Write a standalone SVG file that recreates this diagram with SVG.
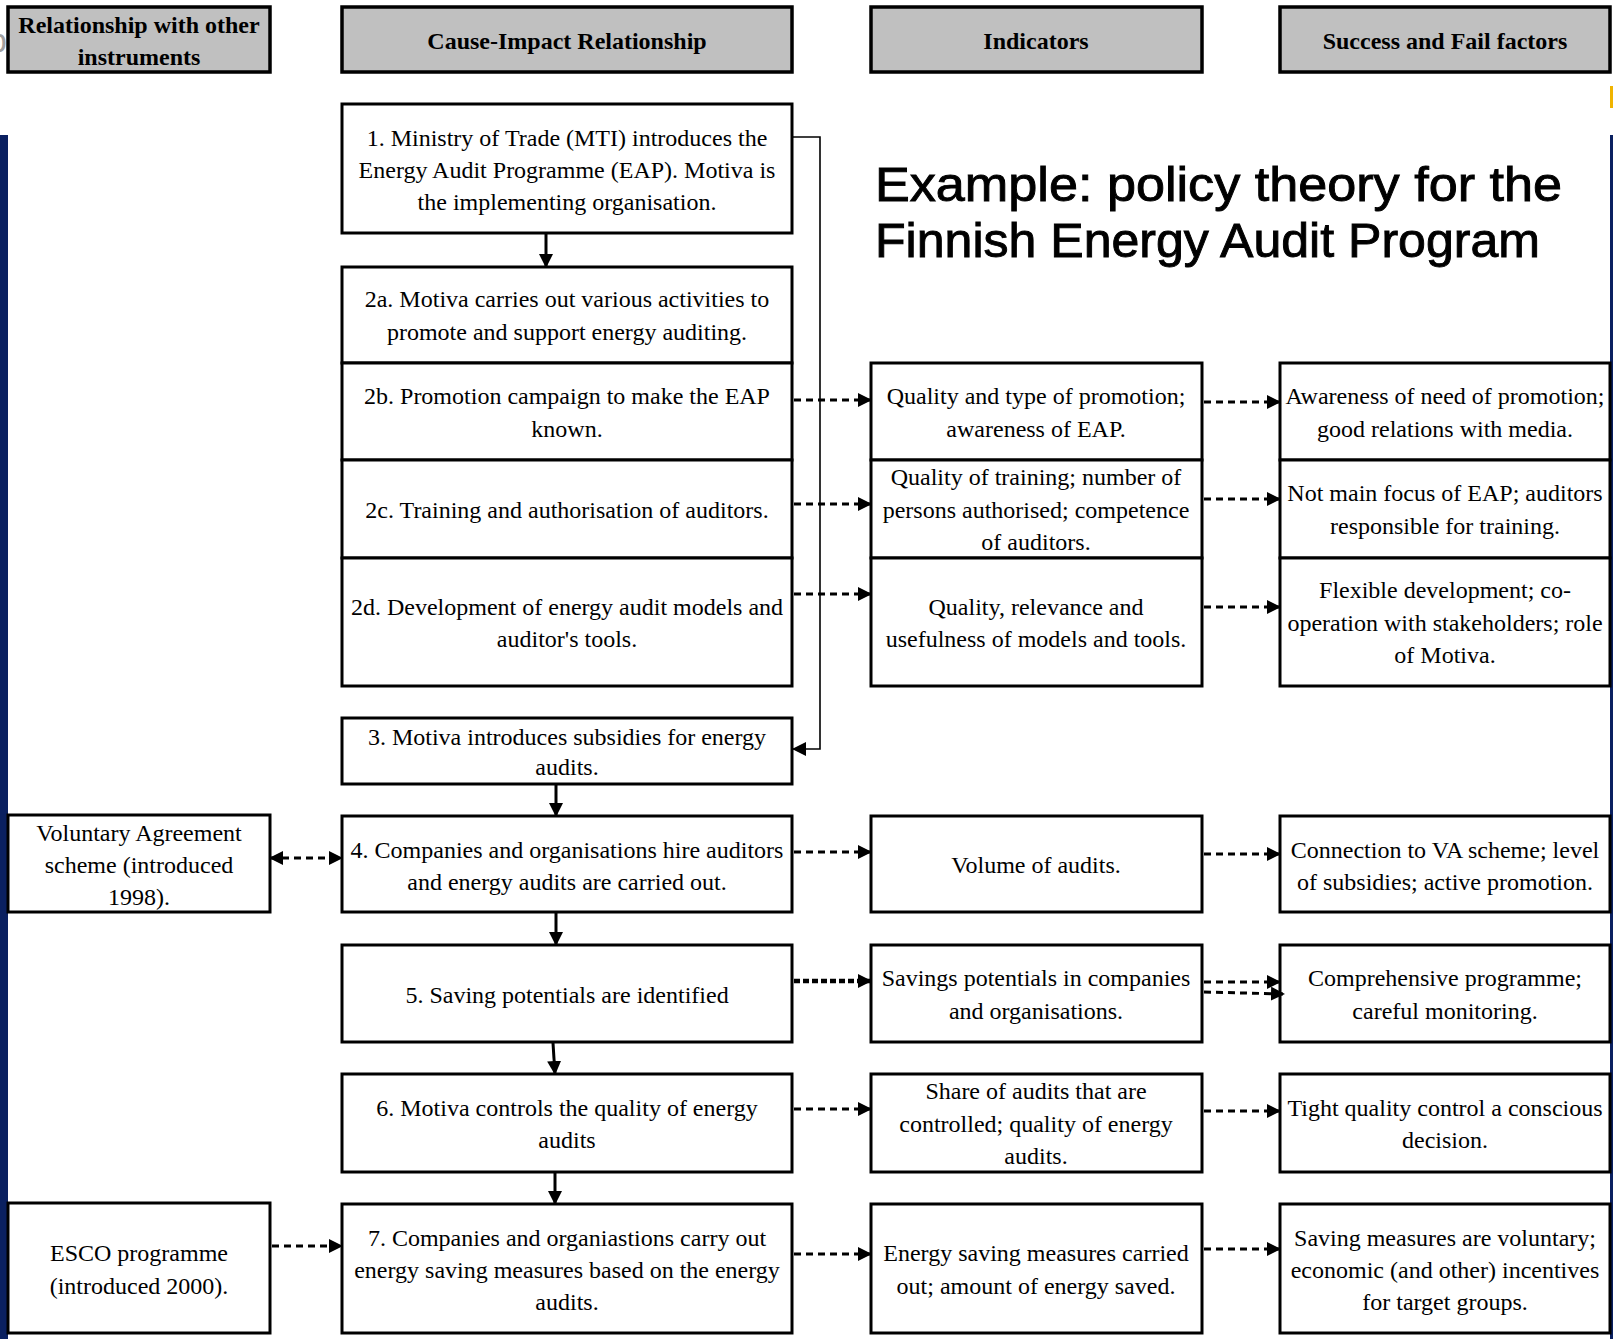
<svg xmlns="http://www.w3.org/2000/svg" width="1613" height="1339" viewBox="0 0 1613 1339">
<style>
.hd{fill:#c0c0c0;stroke:#000;stroke-width:3.5}
.bx{fill:#fff;stroke:#000;stroke-width:3}
.ht{font-family:"Liberation Serif","Times New Roman",serif;font-weight:bold;font-size:24px;text-anchor:middle;fill:#000}
.t{font-family:"Liberation Serif","Times New Roman",serif;font-size:24px;text-anchor:middle;fill:#000}
.sol{stroke:#000;stroke-width:3;fill:none}
.thin{stroke:#000;stroke-width:1.6;fill:none}
.dsh{stroke:#000;stroke-width:3;stroke-dasharray:7 5;fill:none}
.dot{stroke:#000;stroke-width:4.5;stroke-dasharray:6 3;fill:none}
.title{font-family:"Liberation Sans",Arial,sans-serif;font-size:48px;fill:#000;stroke:#000;stroke-width:0.9}
</style>
<defs>
<marker id="ah" markerUnits="userSpaceOnUse" markerWidth="14" markerHeight="14" refX="13" refY="7" orient="auto-start-reverse" viewBox="0 0 14 14">
<path d="M0,0 L14,7 L0,14 z" fill="#000"/>
</marker>
</defs>
<rect x="0" y="0" width="1613" height="1339" fill="#fff"/>
<!-- decorative edges -->
<rect x="0" y="135" width="8" height="1204" fill="#0a2060"/>
<rect x="1610" y="135" width="3" height="1204" fill="#0a2060"/>
<rect x="1610" y="86" width="3" height="22" fill="#f0b400"/>
<text x="-12" y="52" font-family="Liberation Sans,Arial,sans-serif" font-size="34" fill="#a0a0a0">p</text>

<g id="title">
<text class="title" x="875" y="201" textLength="687" lengthAdjust="spacingAndGlyphs">Example: policy theory for the</text>
<text class="title" x="875" y="257" textLength="665" lengthAdjust="spacingAndGlyphs">Finnish Energy Audit Program</text>
</g>

<g id="h-rel"><rect class="hd" x="8" y="7" width="262" height="65"/>
<text class="ht" x="139" y="33">Relationship with other</text><text class="ht" x="139" y="65">instruments</text></g>
<g id="h-cause"><rect class="hd" x="342" y="7" width="450" height="65"/>
<text class="ht" x="567" y="49">Cause-Impact Relationship</text></g>
<g id="h-ind"><rect class="hd" x="871" y="7" width="331" height="65"/>
<text class="ht" x="1036" y="49">Indicators</text></g>
<g id="h-succ"><rect class="hd" x="1280" y="7" width="330" height="65"/>
<text class="ht" x="1445" y="49">Success and Fail factors</text></g>

<!-- main column -->
<g id="n1"><rect class="bx" x="342" y="104" width="450" height="129"/>
<text class="t" x="567" y="146">1. Ministry of Trade (MTI) introduces the</text>
<text class="t" x="567" y="178">Energy Audit Programme (EAP). Motiva is</text>
<text class="t" x="567" y="210">the implementing organisation.</text></g>
<g id="n2a"><rect class="bx" x="342" y="267" width="450" height="96"/>
<text class="t" x="567" y="307">2a. Motiva carries out various activities to</text>
<text class="t" x="567" y="340">promote and support energy auditing.</text></g>
<g id="n2b"><rect class="bx" x="342" y="363" width="450" height="97"/>
<text class="t" x="567" y="404">2b. Promotion campaign to make the EAP</text>
<text class="t" x="567" y="437">known.</text></g>
<g id="n2c"><rect class="bx" x="342" y="460" width="450" height="98"/>
<text class="t" x="567" y="518">2c. Training and authorisation of auditors.</text></g>
<g id="n2d"><rect class="bx" x="342" y="558" width="450" height="128"/>
<text class="t" x="567" y="615">2d. Development of energy audit models and</text>
<text class="t" x="567" y="647">auditor's tools.</text></g>
<g id="n3"><rect class="bx" x="342" y="718" width="450" height="66"/>
<text class="t" x="567" y="745">3. Motiva introduces subsidies for energy</text>
<text class="t" x="567" y="775">audits.</text></g>
<g id="n4"><rect class="bx" x="342" y="816" width="450" height="96"/>
<text class="t" x="567" y="858">4. Companies and organisations hire auditors</text>
<text class="t" x="567" y="890">and energy audits are carried out.</text></g>
<g id="n5"><rect class="bx" x="342" y="945" width="450" height="97"/>
<text class="t" x="567" y="1003">5. Saving potentials are identified</text></g>
<g id="n6"><rect class="bx" x="342" y="1074" width="450" height="98"/>
<text class="t" x="567" y="1116">6. Motiva controls the quality of energy</text>
<text class="t" x="567" y="1148">audits</text></g>
<g id="n7"><rect class="bx" x="342" y="1204" width="450" height="129"/>
<text class="t" x="567" y="1246">7. Companies and organiastions carry out</text>
<text class="t" x="567" y="1278">energy saving measures based on the energy</text>
<text class="t" x="567" y="1310">audits.</text></g>

<!-- indicators -->
<g id="i2b"><rect class="bx" x="871" y="363" width="331" height="97"/>
<text class="t" x="1036" y="404">Quality and type of promotion;</text>
<text class="t" x="1036" y="437">awareness of EAP.</text></g>
<g id="i2c"><rect class="bx" x="871" y="460" width="331" height="98"/>
<text class="t" x="1036" y="485">Quality of training; number of</text>
<text class="t" x="1036" y="518">persons authorised; competence</text>
<text class="t" x="1036" y="550">of auditors.</text></g>
<g id="i2d"><rect class="bx" x="871" y="558" width="331" height="128"/>
<text class="t" x="1036" y="615">Quality, relevance and</text>
<text class="t" x="1036" y="647">usefulness of models and tools.</text></g>
<g id="i4"><rect class="bx" x="871" y="816" width="331" height="96"/>
<text class="t" x="1036" y="873">Volume of audits.</text></g>
<g id="i5"><rect class="bx" x="871" y="945" width="331" height="97"/>
<text class="t" x="1036" y="986">Savings potentials in companies</text>
<text class="t" x="1036" y="1019">and organisations.</text></g>
<g id="i6"><rect class="bx" x="871" y="1074" width="331" height="98"/>
<text class="t" x="1036" y="1099">Share of audits that are</text>
<text class="t" x="1036" y="1132">controlled; quality of energy</text>
<text class="t" x="1036" y="1164">audits.</text></g>
<g id="i7"><rect class="bx" x="871" y="1204" width="331" height="129"/>
<text class="t" x="1036" y="1261">Energy saving measures carried</text>
<text class="t" x="1036" y="1294">out; amount of energy saved.</text></g>

<!-- success factors -->
<g id="s2b"><rect class="bx" x="1280" y="363" width="330" height="97"/>
<text class="t" x="1445" y="404">Awareness of need of promotion;</text>
<text class="t" x="1445" y="437">good relations with media.</text></g>
<g id="s2c"><rect class="bx" x="1280" y="460" width="330" height="98"/>
<text class="t" x="1445" y="501">Not main focus of EAP; auditors</text>
<text class="t" x="1445" y="534">responsible for training.</text></g>
<g id="s2d"><rect class="bx" x="1280" y="558" width="330" height="128"/>
<text class="t" x="1445" y="598">Flexible development; co-</text>
<text class="t" x="1445" y="631">operation with stakeholders; role</text>
<text class="t" x="1445" y="663">of Motiva.</text></g>
<g id="s4"><rect class="bx" x="1280" y="816" width="330" height="96"/>
<text class="t" x="1445" y="858">Connection to VA scheme; level</text>
<text class="t" x="1445" y="890">of subsidies; active promotion.</text></g>
<g id="s5"><rect class="bx" x="1280" y="945" width="330" height="97"/>
<text class="t" x="1445" y="986">Comprehensive programme;</text>
<text class="t" x="1445" y="1019">careful monitoring.</text></g>
<g id="s6"><rect class="bx" x="1280" y="1074" width="330" height="98"/>
<text class="t" x="1445" y="1116">Tight quality control a conscious</text>
<text class="t" x="1445" y="1148">decision.</text></g>
<g id="s7"><rect class="bx" x="1280" y="1204" width="330" height="129"/>
<text class="t" x="1445" y="1246">Saving measures are voluntary;</text>
<text class="t" x="1445" y="1278">economic (and other) incentives</text>
<text class="t" x="1445" y="1310">for target groups.</text></g>

<!-- other instruments -->
<g id="va"><rect class="bx" x="8" y="815" width="262" height="97"/>
<text class="t" x="139" y="841">Voluntary Agreement</text>
<text class="t" x="139" y="873">scheme (introduced</text>
<text class="t" x="139" y="905">1998).</text></g>
<g id="esco"><rect class="bx" x="8" y="1203" width="262" height="130"/>
<text class="t" x="139" y="1261">ESCO programme</text>
<text class="t" x="139" y="1294">(introduced 2000).</text></g>

<g id="connectors">
<line class="sol" x1="546" y1="233" x2="546" y2="267" marker-end="url(#ah)"/>
<polyline class="thin" points="792,137 820,137 820,749 793,749" marker-end="url(#ah)"/>
<line class="sol" x1="556" y1="784" x2="556" y2="816" marker-end="url(#ah)"/>
<line class="sol" x1="556" y1="912" x2="556" y2="945" marker-end="url(#ah)"/>
<line class="sol" x1="553" y1="1043" x2="555" y2="1074" marker-end="url(#ah)"/>
<line class="sol" x1="555" y1="1172" x2="555" y2="1204" marker-end="url(#ah)"/>

<line class="dsh" x1="794" y1="400" x2="871" y2="400" marker-end="url(#ah)"/>
<line class="dsh" x1="1204" y1="402" x2="1280" y2="402" marker-end="url(#ah)"/>
<line class="dsh" x1="794" y1="504" x2="871" y2="504" marker-end="url(#ah)"/>
<line class="dsh" x1="1204" y1="499" x2="1280" y2="499" marker-end="url(#ah)"/>
<line class="dsh" x1="794" y1="594" x2="871" y2="594" marker-end="url(#ah)"/>
<line class="dsh" x1="1204" y1="607" x2="1280" y2="607" marker-end="url(#ah)"/>
<line class="dsh" x1="794" y1="852" x2="871" y2="852" marker-end="url(#ah)"/>
<line class="dsh" x1="1204" y1="854" x2="1280" y2="854" marker-end="url(#ah)"/>
<line class="dsh" x1="270" y1="858" x2="342" y2="858" marker-start="url(#ah)" marker-end="url(#ah)"/>
<line class="dot" x1="794" y1="981" x2="871" y2="981" marker-end="url(#ah)"/>
<line class="dsh" x1="1204" y1="982" x2="1280" y2="982" marker-end="url(#ah)"/>
<line class="dsh" x1="1204" y1="992" x2="1284" y2="994" marker-end="url(#ah)"/>
<line class="dsh" x1="794" y1="1109" x2="871" y2="1109" marker-end="url(#ah)"/>
<line class="dsh" x1="1204" y1="1111" x2="1280" y2="1111" marker-end="url(#ah)"/>
<line class="dsh" x1="272" y1="1246" x2="342" y2="1246" marker-end="url(#ah)"/>
<line class="dsh" x1="794" y1="1254" x2="871" y2="1254" marker-end="url(#ah)"/>
<line class="dsh" x1="1204" y1="1249" x2="1280" y2="1249" marker-end="url(#ah)"/>
</g>
</svg>
